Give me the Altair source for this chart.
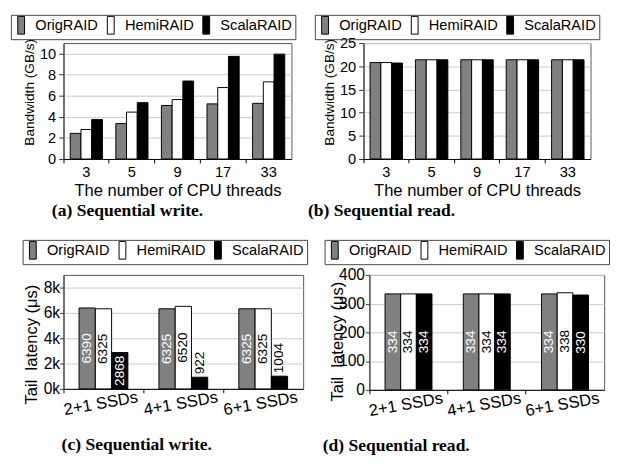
import altair as alt
import pandas as pd

series = ["OrigRAID", "HemiRAID", "ScalaRAID"]
colors = ["#808080", "#ffffff", "#000000"]

threads = ["3", "5", "9", "17", "33"]
seqw_bw_orig = [2.43, 3.36, 5.08, 5.23, 5.28]
seqw_bw_hemi = [2.8, 4.45, 5.64, 6.78, 7.32]
seqw_bw_scala = [3.74, 5.35, 7.4, 9.74, 9.95]

seqr_bw_orig = [20.8, 21.4, 21.4, 21.4, 21.4]
seqr_bw_hemi = [20.8, 21.4, 21.4, 21.4, 21.4]
seqr_bw_scala = [20.7, 21.4, 21.4, 21.4, 21.4]

ssds = ["2+1 SSDs", "4+1 SSDs", "6+1 SSDs"]
seqw_lat_orig = [6390, 6325, 6325]
seqw_lat_hemi = [6325, 6520, 6325]
seqw_lat_scala = [2868, 922, 1004]

seqr_lat_orig = [334, 334, 334]
seqr_lat_hemi = [334, 334, 338]
seqr_lat_scala = [334, 334, 330]

FONT = "Liberation Sans"
SERIF = "Liberation Serif"


def to_long(cats, *cols):
    rows = []
    for s, vals in zip(series, cols):
        for c, v in zip(cats, vals):
            rows.append({"cat": c, "series": s, "value": v})
    return pd.DataFrame(rows)


def make_legend(lx, ly):
    return alt.Legend(
        title=None, orient="none", legendX=lx, legendY=ly, direction="horizontal",
        strokeColor="#444", padding=3, labelFont=FONT, labelFontSize=15,
        labelColor="black", labelOffset=7, columnPadding=5,
        symbolType="M-1,-2.6H1V2.6H-1Z", symbolSize=49,
        symbolStrokeColor="black", symbolStrokeWidth=1, symbolOpacity=1,
        labelLimit=0,
    )


def build(df, cats, w, h, po, ydom, yvals, ytitle, tx, ty, tsize, ylab_size,
          ytick, ylab_pad, xtitle, xangle, xlab_size, xlab_pad, xlab_shift,
          caption, cap_dx, cap_off, lx, ly, ylabel_expr=None, labels=None,
          thresh=0):
    xaxis_kw = dict(
        bandPosition=0, labelOffset=xlab_shift, labelAngle=xangle,
        labelAlign="center", labelBaseline="top", labelFontSize=xlab_size,
        labelPadding=xlab_pad, tickSize=4, domainColor="black",
        tickColor="black", labelColor="black", title=xtitle,
    )
    if xtitle is not None:
        xaxis_kw.update(titleFontSize=17, titleY=24, titleBaseline="top",
                        titleFontWeight="normal")
    x = alt.X("cat:N", sort=cats, scale=alt.Scale(paddingInner=0, paddingOuter=0),
              axis=alt.Axis(**xaxis_kw))
    xo = alt.XOffset("series:N", sort=series,
                     scale=alt.Scale(domain=series, paddingInner=0, paddingOuter=po))
    yaxis_kw = dict(
        values=yvals, grid=True, gridColor="#c8c8c8", gridWidth=1,
        tickSize=ytick, labelPadding=ylab_pad, labelFontSize=ylab_size,
        labelColor="black", title=ytitle, titleX=tx, titleY=ty,
        titleAngle=270, titleAlign="center", titleBaseline="middle",
        titleFontSize=tsize, titleFontWeight="normal", domainColor="#333",
        tickColor="#333",
    )
    if ylabel_expr is not None:
        yaxis_kw["labelExpr"] = ylabel_expr
    yscale = alt.Scale(domain=ydom, nice=False, zero=True)

    def yenc(field):
        return alt.Y(field + ":Q", scale=yscale, axis=alt.Axis(**yaxis_kw))

    color = alt.Color("series:N", sort=series,
                      scale=alt.Scale(domain=series, range=colors),
                      legend=make_legend(lx, ly))
    base = alt.Chart(df)
    bars = base.mark_bar(stroke="black", strokeWidth=1, opacity=1).encode(
        x=x, xOffset=xo, y=yenc("value"), color=color)
    layers = [bars]
    if labels:
        calc = base.transform_calculate(
            half="datum.value / 2",
            tc="datum.series == 'HemiRAID' ? 'black' : 'white'",
        )
        inside = calc.transform_filter(f"datum.value > {thresh}").mark_text(
            angle=270, align="center", baseline="middle", font=FONT,
            fontSize=labels).encode(
            x=x, xOffset=xo, y=yenc("half"),
            text=alt.Text("value:Q", format="d"),
            color=alt.Color("tc:N", scale=None))
        outside = calc.transform_filter(f"datum.value <= {thresh}").mark_text(
            angle=270, align="left", baseline="middle", font=FONT,
            fontSize=labels, dx=3, color="black").encode(
            x=x, xOffset=xo, y=yenc("value"),
            text=alt.Text("value:Q", format="d"))
        layers += [inside, outside]
    title = alt.TitleParams(caption, orient="bottom", anchor="start",
                            frame="group", dx=cap_dx, font=SERIF, fontSize=18,
                            fontWeight="bold", color="black", offset=cap_off)
    return alt.layer(*layers).properties(width=w, height=h, title=title)


pa = build(to_long(threads, seqw_bw_orig, seqw_bw_hemi, seqw_bw_scala), threads,
           234, 119, 0.625, [0, 11], [0, 2, 4, 6, 8, 10], "Bandwidth (GB/s)",
           -35, 50, 14, 15, 5, 3, "The number of CPU threads", 0, 15, 2, 0,
           "(a) Sequential write.", -12, 5, -54, -29)
pb = build(to_long(threads, seqr_bw_orig, seqr_bw_hemi, seqr_bw_scala), threads,
           233, 119, 0.6, [0, 25], [0, 5, 10, 15, 20, 25], "Bandwidth (GB/s)",
           -35, 50, 14, 15, 5, 3, "The number of CPU threads", 0, 15, 2, 0,
           "(b) Sequential read.", -57, 5, -50, -29)
pc = build(to_long(ssds, seqw_lat_orig, seqw_lat_hemi, seqw_lat_scala), ssds,
           246, 117, 0.955, [0, 9000], [0, 2000, 4000, 6000, 8000],
           "Tail\u00a0 latency (\u03bcs)", -33, 71, 17, 16, 4, 0, None, 350, 17, 3,
           -4, "(c) Sequential write.", -2, 19, -42, -36,
           ylabel_expr="datum.value / 1000 + 'k'", labels=14, thresh=2000)
pd_ = build(to_long(ssds, seqr_lat_orig, seqr_lat_hemi, seqr_lat_scala), ssds,
            241, 118, 1.0, [0, 400], [0, 100, 200, 300, 400],
            "Tail\u00a0 latency (\u03bcs)", -33, 68, 17, 16, 4, 1, None, 350, 17, 3,
            -4, "(d) Sequential read.", -48, 19, -46, -36, labels=14, thresh=0)

row1 = alt.hconcat(pa, pb, spacing=74, bounds="flush").resolve_scale(
    color="independent", xOffset="independent").resolve_legend(color="independent")
row2 = alt.hconcat(pc, pd_, spacing=68, bounds="flush").resolve_scale(
    color="independent", xOffset="independent").resolve_legend(color="independent")

chart = alt.vconcat(row1, row2, spacing=18).resolve_scale(
    color="independent", xOffset="independent").resolve_legend(
    color="independent").properties(
    padding={"left": 2, "top": 0, "right": 0, "bottom": 0}
).configure(
    font=FONT,
).configure_view(
    stroke="#555", strokeWidth=1
).configure_axis(
    labelFont=FONT, titleFont=FONT, titleColor="black"
)

chart.save("out.html", embed_options={"renderer": "svg", "actions": False})
